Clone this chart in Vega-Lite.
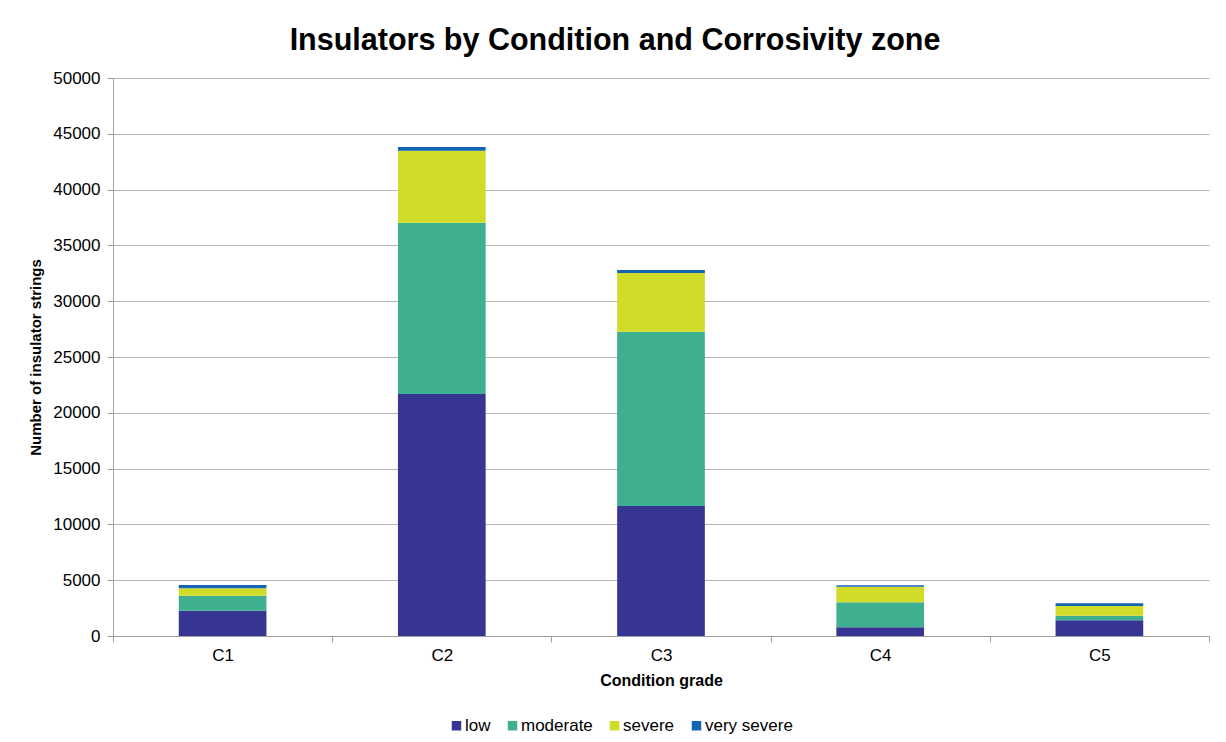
{
  "$schema": "https://vega.github.io/schema/vega-lite/v6.json",
  "autosize": {"type": "none"},
  "width": 1096,
  "height": 558,
  "padding": {"left": 113, "top": 78, "right": 17, "bottom": 106},
  "background": "white",
  "config": {
    "font": "Liberation Sans",
    "view": {"stroke": null},
    "axis": {"labelFont": "Liberation Sans", "titleFont": "Liberation Sans"}
  },
  "title": {
    "text": "Insulators by Condition and Corrosivity zone",
    "fontSize": 30.5,
    "fontWeight": "bold",
    "font": "Liberation Sans",
    "color": "#000000",
    "anchor": "middle",
    "dx": -46,
    "offset": 13
  },
  "data": {
    "values": [
      {"grade": "C1", "zone": "low", "order": 1, "count": 2267},
      {"grade": "C1", "zone": "moderate", "order": 2, "count": 1344},
      {"grade": "C1", "zone": "severe", "order": 3, "count": 663},
      {"grade": "C1", "zone": "very severe", "order": 4, "count": 296},
      {"grade": "C2", "zone": "low", "order": 1, "count": 21690},
      {"grade": "C2", "zone": "moderate", "order": 2, "count": 15340},
      {"grade": "C2", "zone": "severe", "order": 3, "count": 6450},
      {"grade": "C2", "zone": "very severe", "order": 4, "count": 330},
      {"grade": "C3", "zone": "low", "order": 1, "count": 11650},
      {"grade": "C3", "zone": "moderate", "order": 2, "count": 15620},
      {"grade": "C3", "zone": "severe", "order": 3, "count": 5260},
      {"grade": "C3", "zone": "very severe", "order": 4, "count": 270},
      {"grade": "C4", "zone": "low", "order": 1, "count": 780},
      {"grade": "C4", "zone": "moderate", "order": 2, "count": 2240},
      {"grade": "C4", "zone": "severe", "order": 3, "count": 1400},
      {"grade": "C4", "zone": "very severe", "order": 4, "count": 125},
      {"grade": "C5", "zone": "low", "order": 1, "count": 1407},
      {"grade": "C5", "zone": "moderate", "order": 2, "count": 412},
      {"grade": "C5", "zone": "severe", "order": 3, "count": 869},
      {"grade": "C5", "zone": "very severe", "order": 4, "count": 242}
    ]
  },
  "mark": {"type": "bar", "width": {"band": 0.4}},
  "encoding": {
    "x": {
      "field": "grade",
      "type": "nominal",
      "sort": ["C1", "C2", "C3", "C4", "C5"],
      "scale": {"paddingInner": 0, "paddingOuter": 0},
      "axis": {
        "title": "Condition grade",
        "titleFontSize": 16,
        "titleFontWeight": "bold",
        "titleColor": "#000000",
        "titlePadding": 9,
        "labelAngle": 0,
        "labelFontSize": 17,
        "labelColor": "#000000",
        "labelPadding": 5,
        "domainColor": "#a0a0a0",
        "tickColor": "#a0a0a0",
        "tickBand": "extent",
        "tickSize": 6,
        "grid": false
      }
    },
    "y": {
      "field": "count",
      "type": "quantitative",
      "stack": "zero",
      "scale": {"domain": [0, 50000], "nice": false},
      "axis": {
        "title": "Number of insulator strings",
        "titleFontSize": 15,
        "titleFontWeight": "bold",
        "titleColor": "#000000",
        "titlePadding": 9,
        "values": [0, 5000, 10000, 15000, 20000, 25000, 30000, 35000, 40000, 45000, 50000],
        "format": "d",
        "labelFontSize": 17,
        "labelColor": "#000000",
        "labelPadding": 7,
        "domainColor": "#a0a0a0",
        "tickColor": "#a0a0a0",
        "tickSize": 6,
        "gridColor": "#b4b4b4",
        "gridWidth": 1
      }
    },
    "color": {
      "field": "zone",
      "type": "nominal",
      "scale": {
        "domain": ["low", "moderate", "severe", "very severe"],
        "range": ["#373593", "#3fb08f", "#d0dc28", "#1464b4"]
      },
      "legend": {
        "title": null,
        "orient": "none",
        "direction": "horizontal",
        "legendX": 335,
        "legendY": 639,
        "symbolType": "square",
        "symbolSize": 90,
        "symbolStrokeWidth": 0,
        "labelFontSize": 17,
        "labelColor": "#000000",
        "labelOffset": 0,
        "columnPadding": 13
      }
    },
    "order": {"field": "order", "type": "quantitative"}
  }
}
